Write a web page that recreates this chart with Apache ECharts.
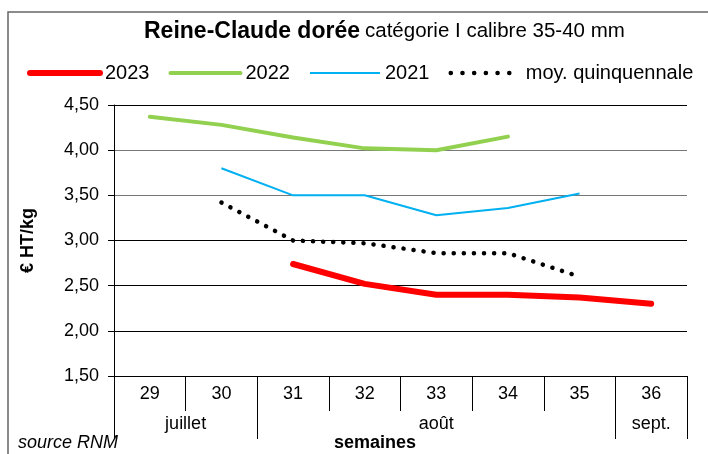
<!DOCTYPE html>
<html>
<head>
<meta charset="utf-8">
<script src="https://cdn.jsdelivr.net/npm/echarts@6/dist/echarts.min.js"></script>
<style>
  html, body { margin: 0; padding: 0; background: #fff; }
  #chart { width: 708px; height: 454px; }
</style>
</head>
<body>
<div id="chart"></div>
<script>
// semaines et prix (€ HT/kg)
var semaines = ['29', '30', '31', '32', '33', '34', '35', '36'];
var v2023 = [null, null, 2.74, 2.52, 2.40, 2.40, 2.37, 2.30];
var v2022 = [4.37, 4.28, 4.14, 4.02, 4.00, 4.15, null, null];
var v2021 = [null, 3.80, 3.50, 3.50, 3.28, 3.36, 3.52, null];
var moyQuinq = [null, 3.42, 3.00, 2.97, 2.86, 2.86, 2.60, null];

// mois : nom et nombre de semaines couvertes
var mois = ['juillet', 'août', 'sept.'];
var moisNbSemaines = [2, 5, 1];

// bornes et centres des mois sur l'axe des semaines
var bornes = [0], centres = [];
moisNbSemaines.forEach(function (n) {
  var debut = bornes[bornes.length - 1];
  centres.push(debut + n / 2);
  bornes.push(debut + n);
});

var font = 'Liberation Sans, Arial, sans-serif';
var chart = echarts.init(document.getElementById('chart'));

var option = {
  backgroundColor: '#fff',
  animation: false,
  textStyle: { fontFamily: font, color: '#000' },
  title: {
    left: 139,
    top: 15,
    text: '{b|Reine-Claude dorée} {n|catégorie I calibre 35-40 mm}',
    textStyle: {
      fontWeight: 'normal',
      rich: {
        b: { fontFamily: font, fontSize: 23, fontWeight: 'bold', color: '#000' },
        n: { fontFamily: font, fontSize: 20.5, fontWeight: 'normal', color: '#000' }
      }
    }
  },
  legend: {
    left: 22,
    top: 58,
    itemWidth: 70,
    itemHeight: 14,
    itemGap: 19,
    itemStyle: { opacity: 0 },
    textStyle: { fontFamily: font, fontSize: 20, color: '#000' },
    data: [
      { name: '2023', lineStyle: { width: 6, cap: 'round' } },
      { name: '2022', lineStyle: { width: 4, cap: 'round' } },
      { name: '2021', lineStyle: { width: 2 } },
      { name: 'moy. quinquennale', lineStyle: { width: 4.5, type: [0.1, 11.6], cap: 'round' } }
    ]
  },
  grid: { left: 114, right: 21, top: 105, bottom: 78 },
  xAxis: [{
    type: 'category',
    data: semaines,
    boundaryGap: true,
    axisLine: { lineStyle: { color: '#000', width: 1 } },
    axisTick: { show: true, interval: 0, length: 35, lineStyle: { color: '#000' } },
    axisLabel: { fontSize: 18, color: '#000', margin: 9, fontFamily: font }
  }, {
    type: 'value',
    position: 'bottom',
    offset: 35,
    min: 0,
    max: semaines.length,
    axisLine: { show: false },
    splitLine: { show: false },
    axisTick: { show: true, length: 28, customValues: bornes, lineStyle: { color: '#000' } },
    axisLabel: {
      fontSize: 18,
      color: '#000',
      margin: 4,
      fontFamily: font,
      customValues: centres,
      formatter: function (v) { return mois[centres.indexOf(v)]; }
    }
  }],
  yAxis: {
    type: 'value',
    min: 1.5,
    max: 4.5,
    interval: 0.5,
    name: '€ HT/kg',
    nameLocation: 'middle',
    nameGap: 77,
    nameTextStyle: { fontFamily: font, fontSize: 18, fontWeight: 'bold', color: '#000' },
    axisLine: { show: true, lineStyle: { color: '#000' } },
    axisTick: { show: true, length: 6, lineStyle: { color: '#000' } },
    axisLabel: {
      fontSize: 18,
      color: '#000',
      margin: 15,
      fontFamily: font,
      formatter: function (v) { return v.toFixed(2).replace('.', ','); }
    },
    splitLine: {
      show: true,
      lineStyle: { color: ['#000', '#000', '#000', '#000', '#777', '#777', '#000'], width: 1.2 }
    }
  },
  graphic: [{
    type: 'polyline',
    shape: { points: [[8, 470], [8, 12], [710, 12]] },
    style: { stroke: '#666', lineWidth: 1.5, fill: null },
    silent: true
  }, {
    type: 'text',
    left: 18,
    top: 434,
    style: { text: 'source RNM', font: 'italic 18px ' + font, fill: '#000' }
  }, {
    type: 'text',
    left: 334,
    top: 434,
    style: { text: 'semaines', font: 'bold 18px ' + font, fill: '#000' }
  }],
  series: [{
    name: '2023',
    type: 'line',
    data: v2023,
    symbol: 'none',
    itemStyle: { color: '#ff0000' },
    lineStyle: { color: '#ff0000', width: 6, cap: 'round' },
    z: 5
  }, {
    name: '2022',
    type: 'line',
    data: v2022,
    symbol: 'none',
    itemStyle: { color: '#92d050' },
    lineStyle: { color: '#92d050', width: 4, cap: 'round' }
  }, {
    name: '2021',
    type: 'line',
    data: v2021,
    symbol: 'none',
    itemStyle: { color: '#00b0f0' },
    lineStyle: { color: '#00b0f0', width: 2 }
  }, {
    name: 'moy. quinquennale',
    type: 'line',
    data: moyQuinq,
    symbol: 'none',
    itemStyle: { color: '#000' },
    lineStyle: { color: '#000', width: 4.5, type: [0.1, 10], cap: 'round' }
  }]
};

chart.setOption(option);
</script>
</body>
</html>
